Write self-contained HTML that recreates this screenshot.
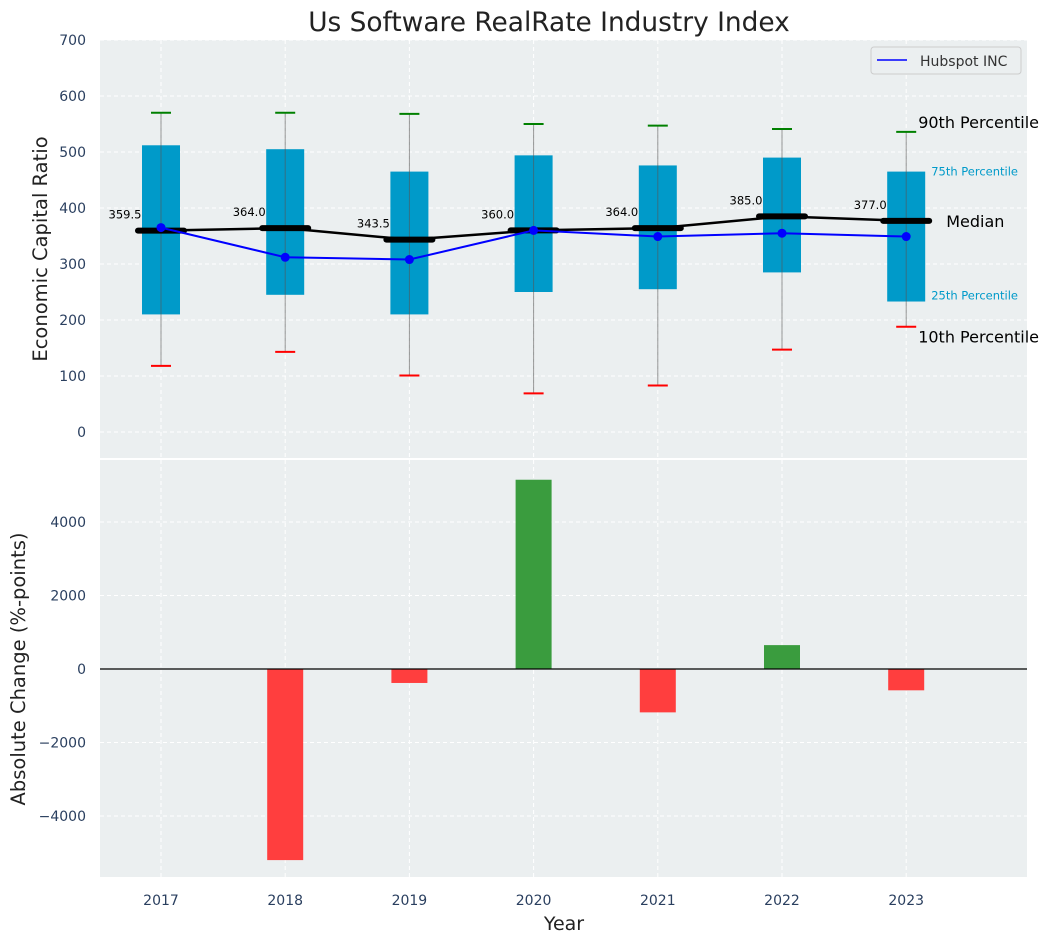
<!DOCTYPE html>
<html><head><meta charset="utf-8"><style>
body{margin:0;background:#fff;font-family:"DejaVu Sans","Liberation Sans",sans-serif}
svg text{font-family:"DejaVu Sans","Liberation Sans",sans-serif}
</style></head><body>
<svg id="c" width="1053" height="942" xmlns="http://www.w3.org/2000/svg"></svg>
<script>
const years=[2017,2018,2019,2020,2021,2022,2023];
const q1=[210,245,210,250,255,285,233];
const q3=[512,505,465,494,476,490,465];
const p10=[118,143,101,69,83,147,188];
const p90=[570,570,568,550,547,541,536];
const medians=[359.5,364,343.5,360,364,385,377];
const hubspot=[365,312,308,360,349,355,349];
const changes=[null,-5200,-380,5150,-1180,650,-580];
const topTicks=[0,100,200,300,400,500,600,700];
const botTicks=[-4000,-2000,0,2000,4000];

const svg=document.getElementById('c');const NS='http://www.w3.org/2000/svg';
function el(t,a,txt,p){const e=document.createElementNS(NS,t);for(const k in a)e.setAttribute(k,a[k]);if(txt!=null)e.textContent=txt;(p||svg).appendChild(e);return e;}
const L=100,R=1027;
const X=v=>161+(v-2017)*124.2;
const Yt=v=>432-v*0.56;
const Yb=v=>669-v*0.03675;
let b1=el('rect',{x:L,y:40,width:R-L,height:418,fill:'#ebeff0'});
let b2=el('rect',{x:L,y:460,width:R-L,height:417,fill:'#ebeff0'});
years.forEach(y=>{el('line',{x1:X(y),x2:X(y),y1:40,y2:458,stroke:'#fff','stroke-dasharray':'4,3','stroke-width':1});el('line',{x1:X(y),x2:X(y),y1:460,y2:877,stroke:'#fff','stroke-dasharray':'4,3','stroke-width':1});
 let t=el('text',{x:X(y),y:905,'text-anchor':'middle','font-size':14,fill:'#2a3f5f'},y);});
topTicks.forEach(v=>{el('line',{x1:L,x2:R,y1:Yt(v),y2:Yt(v),stroke:'#fff','stroke-dasharray':'4,3'});
 let t=el('text',{x:86,y:Yt(v)+5,'text-anchor':'end','font-size':14,fill:'#2a3f5f'},v);});
botTicks.forEach(v=>{el('line',{x1:L,x2:R,y1:Yb(v),y2:Yb(v),stroke:'#fff','stroke-dasharray':'4,3'});
 let t=el('text',{x:86,y:Yb(v)+5,'text-anchor':'end','font-size':14,fill:'#2a3f5f'},String(v).replace('-','−'));});
years.forEach((y,i)=>{const x=X(y);
 let r=el('rect',{x:x-19,y:Yt(q3[i]),width:38,height:Yt(q1[i])-Yt(q3[i]),fill:'#009ac9'});
 el('line',{x1:x,x2:x,y1:Yt(p90[i]),y2:Yt(p10[i]),stroke:'#555','stroke-opacity':0.6,'stroke-width':1});
 let c1=el('line',{x1:x-10,x2:x+10,y1:Yt(p90[i]),y2:Yt(p90[i]),stroke:'green','stroke-width':2});
 let c2=el('line',{x1:x-10,x2:x+10,y1:Yt(p10[i]),y2:Yt(p10[i]),stroke:'red','stroke-width':2});
});
el('polyline',{points:years.map((y,i)=>X(y)+','+Yt(medians[i])).join(' '),fill:'none',stroke:'#000','stroke-width':2.5});
years.forEach((y,i)=>{const x=X(y);
 let m=el('line',{x1:x-23,x2:x+23,y1:Yt(medians[i]),y2:Yt(medians[i]),stroke:'#000','stroke-width':6,'stroke-linecap':'round'});
 let t=el('text',{x:x-36,y:Yt(medians[i])-12,'text-anchor':'middle','font-size':11.5,fill:'#000'},medians[i].toFixed(1));
});
let hl=el('polyline',{points:years.map((y,i)=>X(y)+','+Yt(hubspot[i])).join(' '),fill:'none',stroke:'blue','stroke-width':2});
years.forEach((y,i)=>{let c=el('circle',{cx:X(y),cy:Yt(hubspot[i]),r:4.5,fill:'blue'});});
const xa=X(2023);
el('text',{x:xa+12,y:Yt(p90[6])-4,'font-size':16,fill:'#000'},'90th Percentile');
el('text',{x:xa+25,y:Yt(q3[6])+4,'font-size':11.5,fill:'#009ac9'},'75th Percentile');
el('text',{x:xa+40,y:Yt(medians[6])+6,'font-size':16,fill:'#000'},'Median');
el('text',{x:xa+25,y:Yt(q1[6])-2,'font-size':11.5,fill:'#009ac9'},'25th Percentile');
el('text',{x:xa+12,y:Yt(p10[6])+16,'font-size':16,fill:'#000'},'10th Percentile');
let lg=el('rect',{x:871,y:47,width:150,height:27,fill:'#ebeff0',stroke:'#ccc',rx:3});
el('line',{x1:877,x2:907,y1:60,y2:60,stroke:'blue','stroke-width':1.6});
el('text',{x:920,y:66,'font-size':14,fill:'#333'},'Hubspot INC');
years.forEach((y,i)=>{if(changes[i]==null)return;const v=changes[i];
 let r=el('rect',{x:X(y)-18,y:Math.min(Yb(0),Yb(v)),width:36,height:Math.abs(Yb(v)-Yb(0)),fill:v>=0?'#3a9c3e':'#ff3e3e'});});
el('line',{x1:L,x2:R,y1:Yb(0),y2:Yb(0),stroke:'#000','stroke-width':1.2});
el('text',{x:549,y:31,'text-anchor':'middle','font-size':26.4,fill:'#222'},'Us Software RealRate Industry Index');
el('text',{x:564,y:930,'text-anchor':'middle','font-size':19,fill:'#222'},'Year');
el('text',{x:0,y:0,'text-anchor':'middle','font-size':19.5,fill:'#222',transform:'translate(47,249) rotate(-90)'},'Economic Capital Ratio');
el('text',{x:0,y:0,'text-anchor':'middle','font-size':19.5,fill:'#222',transform:'translate(25,669) rotate(-90)'},'Absolute Change (%-points)');
</script>
</body></html>
